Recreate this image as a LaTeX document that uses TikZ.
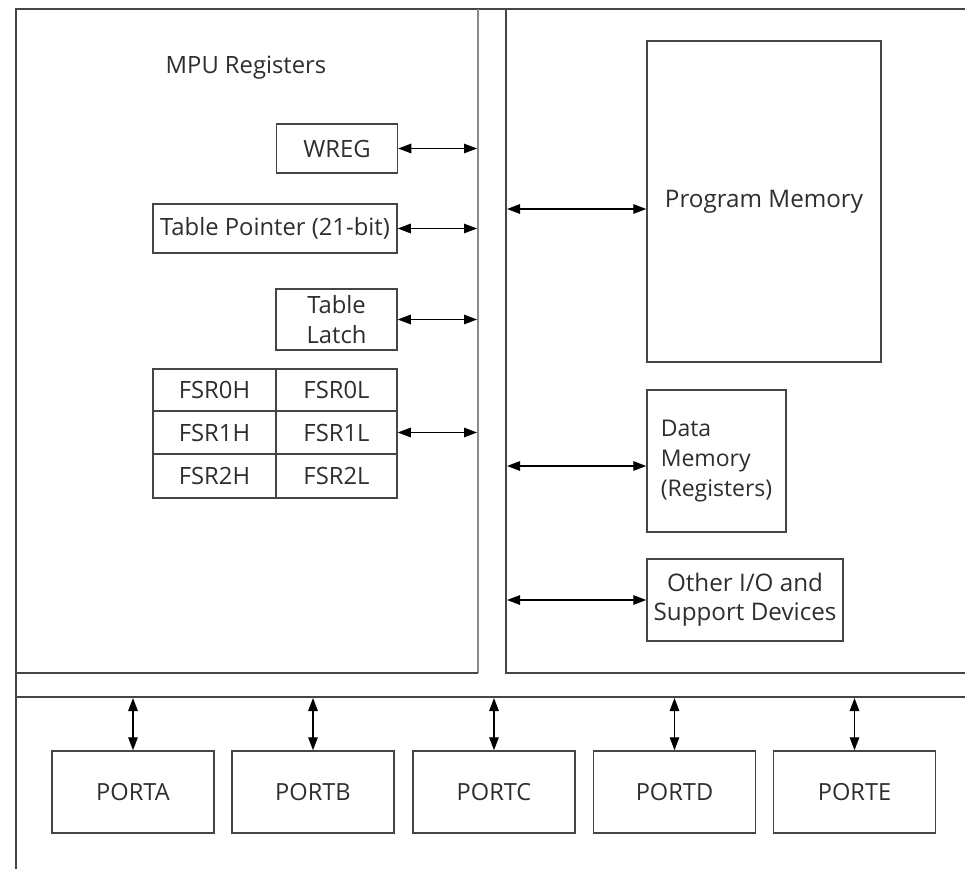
\documentclass[tikz,border=0pt]{standalone}
\usepackage{fontspec}
\setmainfont{Open Sans}
\usetikzlibrary{arrows.meta}
\definecolor{ln}{HTML}{454545}
\definecolor{lnlight}{HTML}{8A8A8A}
\definecolor{txt}{HTML}{2E2E2E}
\begin{document}
\begin{tikzpicture}[x=1pt,y=-1pt,
  box/.style={draw=ln, line width=1.5pt, rectangle, inner sep=0pt, text=txt,
              font=\fontsize{23.8}{30}\selectfont, align=center},
  portbox/.style={box, minimum width=162, minimum height=82,
              font=\fontsize{23.6}{30}\selectfont},
  link/.style={draw=black, line width=1.4pt,
              {Triangle[length=13pt,width=9.5pt]}-{Triangle[length=13pt,width=9.5pt]}},
  frame/.style={draw=ln, line width=1.6pt}]
\useasboundingbox (0,0) rectangle (965,869);
\fill[white] (0,0) rectangle (965,869);

% outer frame, the two upper panels and the port bus
\draw[frame] (16,869) -- (16,9) -- (965,9);
\draw[frame, draw=lnlight, line width=2.4pt] (478,9) -- (478,673);
\draw[frame] (478,673) -- (16,673);
\draw[frame] (506,9) -- (506,673) -- (965,673);
\draw[frame] (16,697) -- (965,697);

% bus lines the connectors end on
\coordinate (lbus) at (477,0);
\coordinate (rbus) at (507,0);
\coordinate (pbus) at (0,698);

% MPU registers
\node[text=txt, font=\fontsize{23.8}{25}\selectfont] (mpu) at (246,68) {MPU Registers};
\node[box, minimum width=121, minimum height=49] (wreg) at (337,148.5) {WREG};
\node[box, minimum width=244, minimum height=49] (tblptr) at (275,228.5) {Table Pointer (21-bit)};
\node[box, minimum width=121, minimum height=61] (tblat) at (336.5,319.5) {Table\\Latch};

% FSR register pairs
\node[box, minimum width=123, minimum height=42] (f0h) at (214.5,390) {FSR0H};
\node[box, minimum width=121, minimum height=42] (f0l) at (336.5,390) {FSR0L};
\node[box, minimum width=123, minimum height=43] (f1h) at (214.5,432.5) {FSR1H};
\node[box, minimum width=121, minimum height=43] (f1l) at (336.5,432.5) {FSR1L};
\node[box, minimum width=123, minimum height=44] (f2h) at (214.5,476) {FSR2H};
\node[box, minimum width=121, minimum height=44] (f2l) at (336.5,476) {FSR2L};

\draw[link] (wreg.east) -- (wreg.east -| lbus);
\draw[link] (tblptr.east) -- (tblptr.east -| lbus);
\draw[link] (tblat.east) -- (tblat.east -| lbus);
\draw[link] (f1l.east) -- (f1l.east -| lbus);

% memories and peripherals
\node[box, minimum width=234, minimum height=321, font=\fontsize{24.2}{30}\selectfont] (prog) at (764,201.5) {Program Memory};
\node[box, minimum width=139, minimum height=142, align=left, font=\fontsize{23}{30}\selectfont] (data) at (716.5,461) {Data\\Memory\\(Registers)};
\node[box, minimum width=196, minimum height=82, font=\fontsize{24.2}{29}\selectfont] (other) at (745,600) {Other I/O and\\Support Devices};

\coordinate (progport) at ([yshift=-7.5]prog.west);
\coordinate (dataport) at ([yshift=-5]data.west);
\draw[link] (progport -| rbus) -- (progport);
\draw[link] (dataport -| rbus) -- (dataport);
\draw[link] (other.west -| rbus) -- (other.west);

% I/O ports
\node[portbox] (porta) at (133,792) {PORTA};
\node[portbox] (portb) at (313,792) {PORTB};
\node[portbox] (portc) at (494,792) {PORTC};
\node[portbox] (portd) at (674.5,792) {PORTD};
\node[portbox] (porte) at (854.5,792) {PORTE};

\foreach \p in {porta,portb,portc,portd,porte}
  \draw[link] (\p.north |- pbus) -- (\p.north);
\end{tikzpicture}
\end{document}
